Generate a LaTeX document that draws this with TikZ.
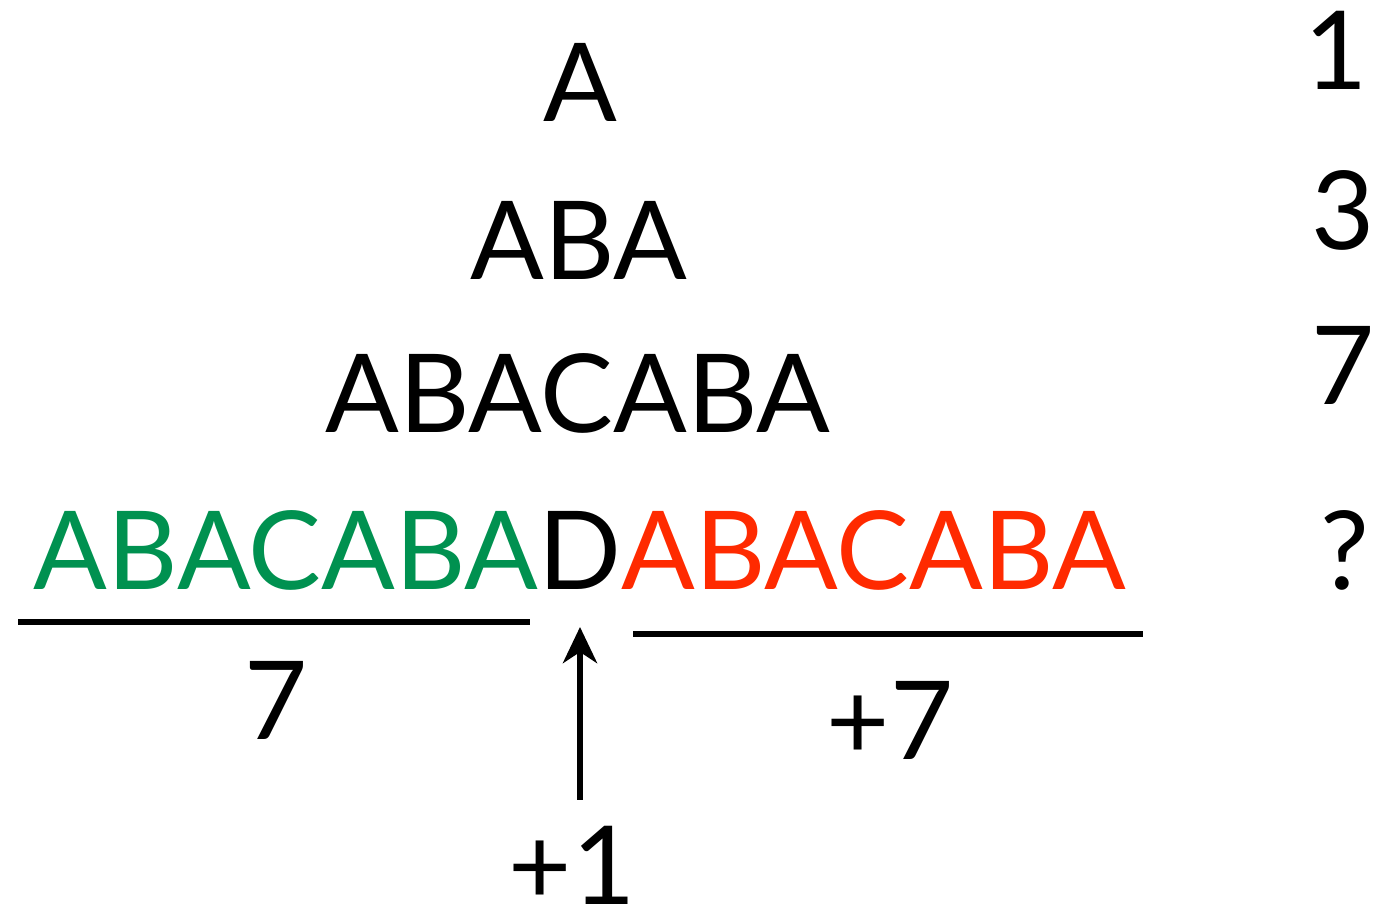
\documentclass[tikz,border=0pt]{standalone}
\usepackage{fontspec}
\setmainfont{Lato}
\usepackage{xcolor}
\usetikzlibrary{arrows.meta}
\definecolor{seqgreen}{HTML}{009150}
\definecolor{seqred}{HTML}{FF2A00}
\tikzset{
  row/.style={anchor=base, inner sep=0pt, font=\fontsize{31}{31}\selectfont},
  count/.style={anchor=base, inner sep=0pt, font=\fontsize{31}{31}\selectfont},
  bar/.style={line width=1.6pt},
  uparrow/.style={-{Stealth[length=3.6mm, width=3.4mm, inset=1.1mm]}, line width=1.7pt}
}
\begin{document}
\begin{tikzpicture}[x=0.01cm, y=-0.01cm]
  \useasboundingbox (0,0) rectangle (1378,919);
  % the strings
  \node[row] (r1) at (580,122) {A};
  \node[row] (r2) at (579,280) {ABA};
  \node[row] (r3) at (578,433) {ABACABA};
  \node[row] (r4) at (580,590) {\textcolor{seqgreen}{ABACABA}D\textcolor{seqred}{ABACABA}};
  % lengths
  \node[count, anchor=base east] (c1) at (1368,90) {1};
  \node[count, anchor=base east] (c2) at (1375,250) {3};
  \node[count, anchor=base east] (c3) at (1375,405) {7};
  \node[count, anchor=base east] (c4) at (1370,590) {?};
  % split below
  \coordinate (l1) at (18,622);
  \coordinate (l2) at (530,622);
  \coordinate (m1) at (633,634);
  \coordinate (m2) at (1143,634);
  \draw[bar] (l1) -- (l2);
  \draw[bar] (m1) -- (m2);
  \node[count] (n1) at (276,740) {7};
  \node[count] (n2) at (890,760) {+7};
  \node[count] (n3) at (572,905) {+1};
  \coordinate (tail) at (580,800);
  \coordinate (tip) at (580,627);
  \draw[uparrow] (tail) -- (tip);
\end{tikzpicture}
\end{document}
